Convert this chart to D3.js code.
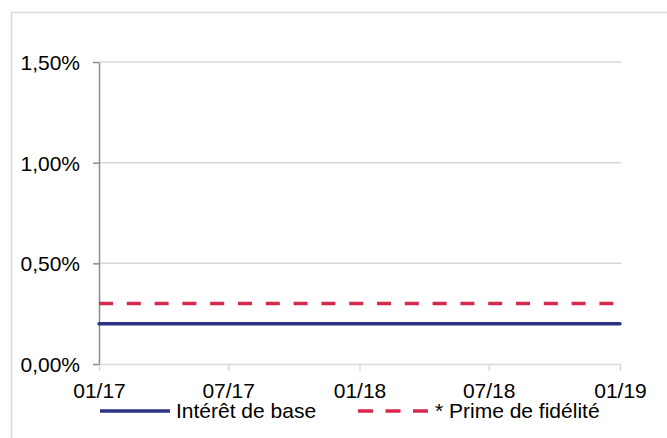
<!DOCTYPE html>
<html>
<head>
<meta charset="utf-8">
<script src="https://cdn.jsdelivr.net/npm/d3@7"></script>
<style>
  body { margin: 0; background: #fff; }
  text { font-family: "Liberation Sans", Arial, sans-serif; fill: #000; }
</style>
</head>
<body>
<div id="chart"></div>
<script>
// data
var dates = ["2017-01-01", "2019-01-01"];
var baseRate = [0.20, 0.20];      // Intérêt de base
var loyaltyRate = [0.30, 0.30];   // * Prime de fidélité
var yTicks = [0, 0.5, 1.0, 1.5];
var xTicks = ["2017-01-01", "2017-07-01", "2018-01-01", "2018-07-01", "2019-01-01"];
var seriesNames = ["Intérêt de base", "* Prime de fidélité"];

var parse = d3.timeParse("%Y-%m-%d");
var fontSize = "21px";

var svg = d3.select("#chart")
  .append("svg")
  .attr("width", 667)
  .attr("height", 438);

// outer frame
svg.append("rect")
  .attr("x", 11.5)
  .attr("y", 12.5)
  .attr("width", 670)
  .attr("height", 440)
  .style("fill", "none")
  .style("stroke", "#d9d9d9")
  .style("stroke-width", 1.5);

var x = d3.scaleTime()
  .domain([parse(dates[0]), parse(dates[dates.length - 1])])
  .range([99, 620]);

var y = d3.scaleLinear()
  .domain([0, 1.5])
  .range([364, 62]);

function pct(v) { return d3.format(".2f")(v).replace(".", ",") + "%"; }

// gridlines
svg.selectAll(".grid")
  .data(yTicks.filter(function(d) { return d > 0; }))
  .enter().append("line")
  .attr("class", "grid")
  .attr("x1", 99)
  .attr("x2", 621)
  .attr("y1", function(d) { return y(d); })
  .attr("y2", function(d) { return y(d); })
  .style("stroke", "#d9d9d9")
  .style("stroke-width", 1.5);

// x axis
var xAxis = svg.append("g")
  .attr("transform", "translate(0," + y(0) + ")")
  .call(d3.axisBottom(x)
    .tickValues(xTicks.map(parse))
    .tickFormat(d3.timeFormat("%m/%y"))
    .tickSize(7)
    .tickSizeOuter(0));
xAxis.select(".domain").style("stroke", "#d9d9d9").style("stroke-width", 1.5);
xAxis.selectAll(".tick line").style("stroke", "#d9d9d9").style("stroke-width", 1.5);
xAxis.selectAll(".tick text")
  .attr("y", 33.7)
  .attr("dy", "0")
  .style("font-family", "'Liberation Sans', Arial, sans-serif")
  .style("font-size", fontSize)
  .style("fill", "#000");

// y axis
var yAxis = svg.append("g")
  .attr("transform", "translate(99,0)")
  .call(d3.axisLeft(y)
    .tickValues(yTicks)
    .tickFormat(pct)
    .tickSize(6)
    .tickSizeOuter(0));
yAxis.select(".domain").style("stroke", "#8c8c8c").style("stroke-width", 1.5);
yAxis.selectAll(".tick line").style("stroke", "#8c8c8c").style("stroke-width", 1.5);
yAxis.selectAll(".tick text")
  .attr("x", -19)
  .attr("dy", "0")
  .attr("y", 7.5)
  .style("font-family", "'Liberation Sans', Arial, sans-serif")
  .style("font-size", fontSize)
  .style("fill", "#000");

var line = d3.line()
  .x(function(d) { return x(parse(d.date)); })
  .y(function(d) { return y(d.value); });

function toPoints(vals) {
  return dates.map(function(d, i) { return { date: d, value: vals[i] }; });
}

svg.append("path")
  .datum(toPoints(baseRate))
  .attr("d", line)
  .style("fill", "none")
  .style("stroke", "#2e3383")
  .style("stroke-width", 3.5)
  .style("stroke-linecap", "round");

svg.append("path")
  .datum(toPoints(loyaltyRate))
  .attr("d", line)
  .style("fill", "none")
  .style("stroke", "#d5294d")
  .style("stroke-width", 3.5)
  .style("stroke-dasharray", "14,13.8");

// legend
var legend = svg.selectAll(".legend")
  .data(seriesNames)
  .enter().append("g")
  .attr("class", "legend")
  .attr("transform", function(d, i) { return "translate(" + (i == 0 ? 100 : 358) + ",411)"; });

legend.append("line")
  .attr("x1", 0)
  .attr("x2", 70)
  .style("stroke", function(d, i) { return i == 0 ? "#2e3383" : "#d5294d"; })
  .style("stroke-width", 3.5)
  .style("stroke-dasharray", function(d, i) { return i == 0 ? null : "15,12.5"; });

legend.append("text")
  .attr("x", function(d, i) { return i == 0 ? 76 : 77; })
  .attr("y", 7)
  .style("font-size", fontSize)
  .text(function(d) { return d; });
</script>
</body>
</html>
